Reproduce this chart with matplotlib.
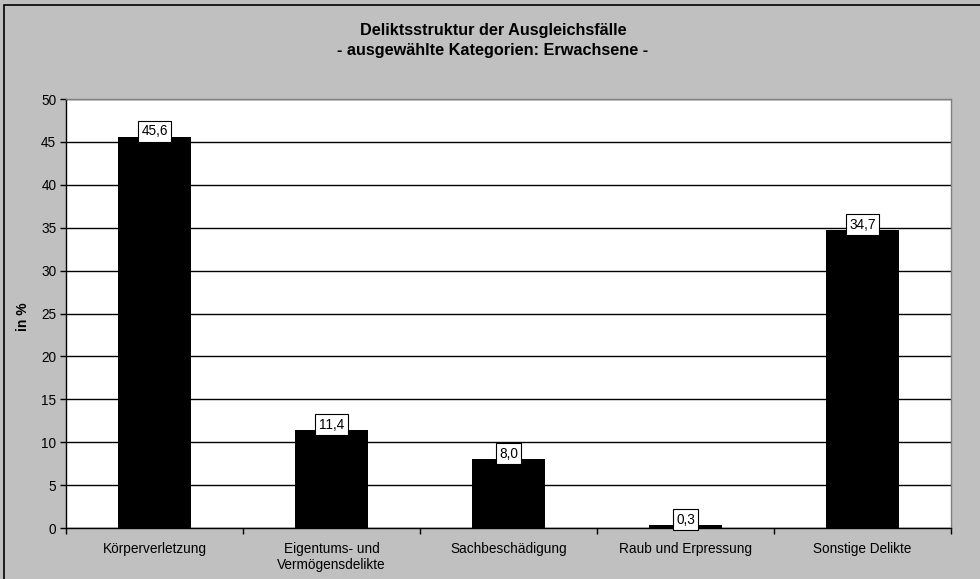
import matplotlib.pyplot as plt
from matplotlib.patches import Rectangle

categories = ["Körperverletzung", "Eigentums- und\nVermögensdelikte", "Sachbeschädigung",
              "Raub und Erpressung", "Sonstige Delikte"]
values = [45.6, 11.4, 8.0, 0.3, 34.7]
value_labels = ["45,6", "11,4", "8,0", "0,3", "34,7"]
yticks = [0, 5, 10, 15, 20, 25, 30, 35, 40, 45, 50]

plt.rcParams['font.family'] = ['Liberation Sans', 'DejaVu Sans']

W, H = 980, 579
fig = plt.figure(figsize=(W / 100, H / 100), dpi=100, facecolor='#c0c0c0')

# outer frame of the chart
fig.patches.append(Rectangle((4 / W, -0.01), 1.0, 1 - 5 / H + 0.01, transform=fig.transFigure,
                             fill=False, edgecolor='black', linewidth=1.2))

ax = fig.add_axes([66 / W, (H - 528) / H, 885 / W, 429 / H])
ax.set_facecolor('white')

xs = range(len(categories))
ax.bar(xs, values, width=0.41, color='black', zorder=3)

for x, v, lab in zip(xs, values, value_labels):
    ax.annotate(lab, (x, v), xytext=(0, 4), textcoords='offset points',
                ha='center', va='center', fontsize=9.8, zorder=5,
                bbox=dict(boxstyle='square,pad=0.25', fc='white', ec='black', lw=0.8))

ax.set_xlim(-0.5, len(categories) - 0.5)
ax.set_ylim(0, 50)
ax.set_yticks(yticks)
ax.set_yticklabels([str(t) for t in yticks], fontsize=9.8)
ax.set_xticks(xs)
ax.set_xticklabels(categories, fontsize=9.8)
ax.tick_params(axis='x', length=0, pad=10)
ax.tick_params(axis='y', length=4, width=1, direction='out', pad=3)

# category boundary ticks on x axis
ax.set_xticks([i - 0.5 for i in range(len(categories) + 1)], minor=True)
ax.tick_params(axis='x', which='minor', length=4, width=1, direction='out')

ax.yaxis.grid(True, color='black', linewidth=1, zorder=0)
ax.set_axisbelow(True)

ax.spines['left'].set_color('black')
ax.spines['bottom'].set_color('black')
ax.spines['top'].set_color('#808080')
ax.spines['right'].set_color('#808080')
for s in ax.spines.values():
    s.set_linewidth(1)

fig.text(23 / W, 1 - 317 / H, 'in %', rotation=90, ha='center', va='center',
         fontsize=10, fontweight='bold')

fig.text(493 / W, 1 - 30 / H, "Deliktsstruktur der Ausgleichsfälle",
         ha='center', va='center', fontsize=11.7, fontweight='bold')
fig.text(493 / W, 1 - 50 / H, "- ausgewählte Kategorien: Erwachsene -",
         ha='center', va='center', fontsize=11.7, fontweight='bold')

fig.savefig('out.png', dpi=100, facecolor=fig.get_facecolor())
